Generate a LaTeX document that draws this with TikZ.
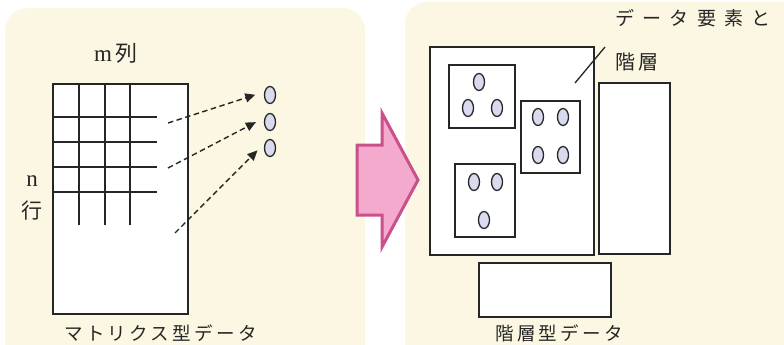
\documentclass[tikz,border=0pt]{standalone}
\usepackage{fontspec}
\usetikzlibrary{arrows.meta,shapes.geometric}
\setmainfont{Liberation Serif}
\newfontfamily\jp{Noto Sans CJK JP}
\newfontfamily\jpcap[LetterSpace=18]{Noto Sans CJK JP}
\newfontfamily\jpwide[LetterSpace=44]{Noto Sans CJK JP}
\definecolor{panel}{HTML}{FBF7E2}
\definecolor{ink}{HTML}{262626}
\definecolor{dotfill}{HTML}{D9DAEE}
\definecolor{pinkfill}{HTML}{F4AACD}
\definecolor{pinkline}{HTML}{C9508A}
\tikzset{
  panelbg/.style={fill=panel, draw=none, rounded corners=22pt},
  box/.style={draw=ink, line width=1.3pt, fill=white, inner sep=0pt, rectangle},
  grid/.style={draw=ink, line width=1.3pt},
  dot/.style={ellipse, draw=ink, line width=1.3pt, fill=dotfill, minimum width=11pt, minimum height=17pt, inner sep=0pt},
  flow/.style={draw=ink, line width=1.4pt, dash pattern=on 5.5pt off 3.5pt, -{Triangle[length=10pt,width=9pt]}, shorten >=9pt},
  label/.style={text=ink, inner sep=0pt},
}
\begin{document}
\begin{tikzpicture}[x=1pt,y=-1pt]
\useasboundingbox (0,0) rectangle (784,345);

% two cream panels
\fill[panelbg] (5,8) rectangle (365,370);
\fill[panelbg] (405,2) rectangle (800,370);

% ---- matrix data ----
\node[box, minimum width=135pt, minimum height=230pt] (mat) at (120.5,199) {};
\foreach \x in {79,105,130} \draw[grid] (\x,84) -- (\x,225);
\foreach \y in {117,142,167,192} \draw[grid] (53,\y) -- (157,\y);

\node[label] (mcol) at (116,53) {\fontsize{23}{24}\selectfont m\,{\jp\fontsize{22}{24}\selectfont 列}};
\node[label] (nrow) at (32,181) {\fontsize{23}{24}\selectfont n};
\node[label] (gyo) at (32,211) {\jp\fontsize{21}{22}\selectfont 行};
\node[label, anchor=west] (capA) at (64,333) {\jpcap\fontsize{18.5}{20}\selectfont マトリクス型データ};

% extracted elements
\node[dot] (e1) at (270,95) {};
\node[dot] (e2) at (270,122) {};
\node[dot] (e3) at (270,148) {};
\coordinate (s1) at (168,123);
\coordinate (s2) at (168,168);
\coordinate (s3) at (175,233);
\draw[flow] (s1) -- ([yshift=3pt]e1.west);
\draw[flow] (s2) -- ([yshift=4pt]e2.west);
\draw[flow] (s3) -- ([yshift=4pt]e3.west);

% ---- conversion arrow ----
\draw[fill=pinkfill, draw=pinkline, line width=3pt, line join=miter]
  (357,145) -- (382,145) -- (382,113) -- (418,180) -- (382,247) -- (382,215) -- (357,215) -- cycle;

% ---- hierarchical data ----
\node[box, minimum width=164pt, minimum height=208pt] (outer) at (512,151) {};
\node[box, minimum width=71pt, minimum height=171pt] (tall) at (634.5,168.5) {};
\node[box, minimum width=132pt, minimum height=54pt] (base) at (545,290) {};

\node[box, minimum width=66pt, minimum height=63pt] (g1) at (482,96.5) {};
\node[dot] at (479,82) {};
\node[dot] at (468,108) {};
\node[dot] at (497,108) {};

\node[box, minimum width=59pt, minimum height=72pt] (g2) at (550.5,137) {};
\node[dot] at (538,117) {};
\node[dot] at (563,117) {};
\node[dot] at (538,155) {};
\node[dot] at (563,155) {};

\node[box, minimum width=60pt, minimum height=73pt] (g3) at (485,200.5) {};
\node[dot] at (474,182) {};
\node[dot] at (497,182) {};
\node[dot] at (484,220) {};

\node[label, anchor=west] (elem) at (615,18) {\jpwide\fontsize{19}{21}\selectfont データ要素と};
\node[label, anchor=west] (layer) at (615,62) {\jpcap\fontsize{20}{22}\selectfont 階層};
\coordinate (lead0) at (575,83);
\coordinate (lead1) at (605,47);
\draw[draw=ink, line width=1.3pt] (lead0) -- (lead1);

\node[label, anchor=west] (capB) at (495,333) {\jpcap\fontsize{18.5}{20}\selectfont 階層型データ};
\end{tikzpicture}
\end{document}
